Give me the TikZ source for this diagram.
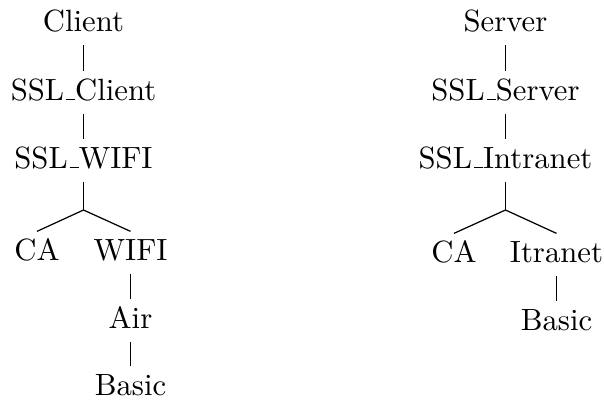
\documentclass[tikz,border=0pt]{standalone}
\newcommand\usc{\leavevmode\kern.06em\vbox{\hrule width.3em}}
\begin{document}
\begin{tikzpicture}[x=0.3257pt,y=-0.3257pt,
  lbl/.style={anchor=base,inner sep=0pt,text height=6.83pt,text depth=0pt,font=\fontsize{10}{12}\selectfont},
  edge/.style={line width=0.4pt}]
\useasboundingbox (0,0) rectangle (604,403);
% left tree
\node[lbl] (client) at (83.5,31) {Client};
\node[lbl] (sslc) at (83.5,100) {SSL\usc Client};
\node[lbl] (sslw) at (83.5,168) {SSL\usc WIFI};
\coordinate (bl) at (83.5,210);
\node[lbl] (ca1) at (37,260) {CA};
\node[lbl] (wifi) at (130.5,260) {WIFI};
\node[lbl] (air) at (130.5,328) {Air};
\node[lbl] (basic1) at (130.5,395) {Basic};
\draw[edge] ([yshift=-4.5pt]client.south) -- ([yshift=2.3pt]sslc.north);
\draw[edge] ([yshift=-4.5pt]sslc.south) -- ([yshift=2.3pt]sslw.north);
\draw[edge] ([yshift=-4.5pt]sslw.south) -- (bl);
\draw[edge] (bl) -- ([yshift=2.3pt]ca1.north);
\draw[edge] (bl) -- ([yshift=2.3pt]wifi.north);
\draw[edge] ([yshift=-4.5pt]wifi.south) -- ([yshift=2.3pt]air.north);
\draw[edge] ([yshift=-4.5pt]air.south) -- ([yshift=2.3pt]basic1.north);
% right tree
\node[lbl] (server) at (505.5,31) {Server};
\node[lbl] (ssls) at (505.5,100) {SSL\usc Server};
\node[lbl] (ssli) at (505.5,168) {SSL\usc Intranet};
\coordinate (br) at (505.5,210);
\node[lbl] (ca2) at (454,262) {CA};
\node[lbl] (itranet) at (556.5,262) {Itranet};
\node[lbl] (basic2) at (556.5,330) {Basic};
\draw[edge] ([yshift=-4.5pt]server.south) -- ([yshift=2.3pt]ssls.north);
\draw[edge] ([yshift=-4.5pt]ssls.south) -- ([yshift=2.3pt]ssli.north);
\draw[edge] ([yshift=-4.5pt]ssli.south) -- (br);
\draw[edge] (br) -- ([yshift=2.3pt]ca2.north);
\draw[edge] (br) -- ([yshift=2.3pt]itranet.north);
\draw[edge] ([yshift=-4.5pt]itranet.south) -- ([yshift=2.3pt]basic2.north);
\end{tikzpicture}
\end{document}
